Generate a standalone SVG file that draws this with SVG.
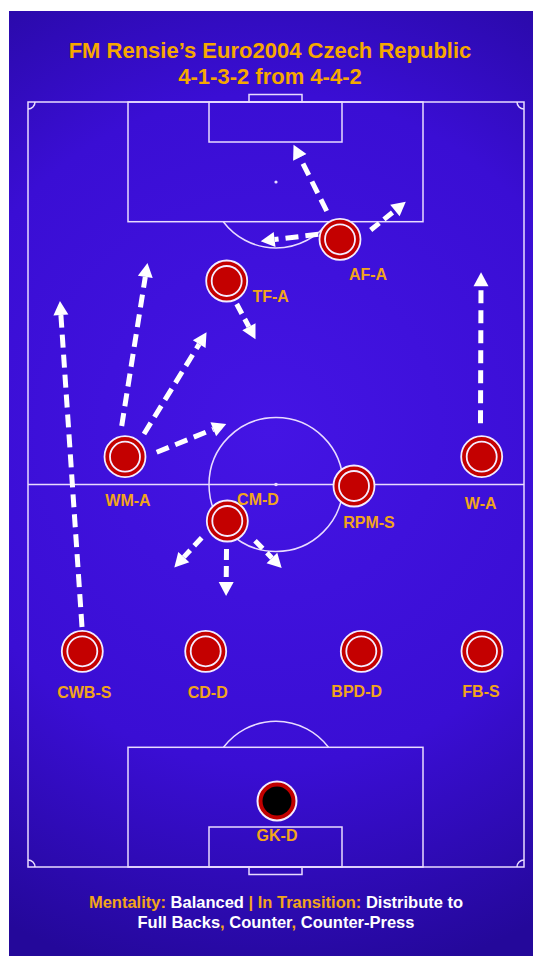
<svg xmlns="http://www.w3.org/2000/svg" width="533" height="956" viewBox="0 0 533 956">
<defs>
<radialGradient id="bg" cx="270" cy="430" r="560" gradientUnits="userSpaceOnUse">
<stop offset="0" stop-color="#4414e4"/>
<stop offset="0.6" stop-color="#3a0ed4"/>
<stop offset="1" stop-color="#24089a"/>
</radialGradient>
<marker id="ah" markerUnits="userSpaceOnUse" markerWidth="16" markerHeight="16" viewBox="0 -8 15 16" refX="0" refY="0" orient="auto">
<path d="M0,-7.5 L14,0 L0,7.5 Z" fill="#ffffff"/>
</marker>
</defs>
<style>
.pitch{fill:none;stroke:#e9dcff;stroke-width:1.5}
.dot{fill:#e9dcff}
.arr{fill:none;stroke:#ffffff;stroke-width:5;stroke-dasharray:13 7;marker-end:url(#ah)}
.arrs{fill:none;stroke:#ffffff;stroke-width:5;stroke-dasharray:11 6;marker-end:url(#ah)}
.p-out{fill:#c40000;stroke:#f4ecff;stroke-width:1.8}
.p-in{fill:none;stroke:#f4ecff;stroke-width:1.8}
.lbl{font-family:"Liberation Sans",Arial,sans-serif;font-weight:bold;font-size:16px;fill:#f2a51a;text-anchor:middle}
.title{font-family:"Liberation Sans",Arial,sans-serif;font-weight:bold;font-size:22px;fill:#f6a800;text-anchor:middle}
.foot{font-family:"Liberation Sans",Arial,sans-serif;font-weight:bold;font-size:16.5px;text-anchor:middle;fill:#ffffff}
.o{fill:#f2a51a}
</style>
<rect x="9" y="11" width="524" height="945" fill="url(#bg)"/>
<g id="pitch">
<rect class="pitch" x="28" y="102" width="496" height="765"/>
<line class="pitch" x1="28" y1="484.5" x2="524" y2="484.5"/>
<circle class="pitch" cx="276" cy="484.5" r="67"/>
<circle class="dot" cx="276" cy="484.5" r="1.8"/>
<rect class="pitch" x="128" y="102" width="295" height="119.7"/>
<rect class="pitch" x="209" y="102" width="133" height="40"/>
<rect class="pitch" x="249" y="94.5" width="53" height="7.5"/>
<circle class="dot" cx="276" cy="182" r="1.6"/>
<path class="pitch" d="M223.3,221.7 A66,66 0 0 0 328.7,221.7"/>
<rect class="pitch" x="128" y="747.3" width="295" height="119.7"/>
<rect class="pitch" x="209" y="827" width="133" height="40"/>
<rect class="pitch" x="249" y="867" width="53" height="7.5"/>
<path class="pitch" d="M223.5,747.3 A66,66 0 0 1 328.5,747.3"/>
<path class="pitch" d="M28,109 A7,7 0 0 0 35,102"/>
<path class="pitch" d="M517,102 A7,7 0 0 0 524,109"/>
<path class="pitch" d="M28,860 A7,7 0 0 1 35,867"/>
<path class="pitch" d="M517,867 A7,7 0 0 1 524,860"/>
</g>
<g id="title">
<text class="title" x="270" y="58">FM Rensie’s Euro2004 Czech Republic</text>
<text class="title" x="270" y="84">4-1-3-2 from 4-4-2</text>
</g>
<g id="connectors">
<line class="arr" x1="82" y1="627" x2="60.9" y2="315"/>
<line class="arr" x1="121.7" y1="426" x2="145.3" y2="276.8"/>
<line class="arr" x1="144" y1="434" x2="199.2" y2="344.1"/>
<line class="arr" x1="156.7" y1="452.3" x2="213.3" y2="429.2"/>
<line class="arrs" x1="236.7" y1="304" x2="248.9" y2="326.8"/>
<line class="arr" x1="326.7" y1="211" x2="299.8" y2="157.3"/>
<line class="arr" x1="318.3" y1="234.3" x2="274.6" y2="239.5"/>
<line class="arrs" x1="370.7" y1="230" x2="394.9" y2="210.5"/>
<line class="arr" x1="480.5" y1="423.3" x2="481" y2="286.3"/>
<line class="arrs" x1="201.7" y1="537.7" x2="183.8" y2="557.1"/>
<line class="arrs" x1="226.5" y1="549" x2="226.2" y2="582"/>
<line class="arrs" x1="255" y1="540.7" x2="271.9" y2="558"/>
</g>
<g id="af-a"><circle class="p-out" cx="340" cy="239.3" r="20.5"/><circle class="p-in" cx="340" cy="239.3" r="15"/><text class="lbl" x="368" y="280">AF-A</text></g>
<g id="tf-a"><circle class="p-out" cx="226.7" cy="281" r="20.5"/><circle class="p-in" cx="226.7" cy="281" r="15"/><text class="lbl" x="270.7" y="302">TF-A</text></g>
<g id="wm-a"><circle class="p-out" cx="125" cy="456.7" r="20.5"/><circle class="p-in" cx="125" cy="456.7" r="15"/><text class="lbl" x="128" y="506">WM-A</text></g>
<g id="w-a"><circle class="p-out" cx="481.7" cy="456.7" r="20.5"/><circle class="p-in" cx="481.7" cy="456.7" r="15"/><text class="lbl" x="480.7" y="509">W-A</text></g>
<g id="cm-d"><circle class="p-out" cx="227.3" cy="521" r="20.5"/><circle class="p-in" cx="227.3" cy="521" r="15"/><text class="lbl" x="258" y="505">CM-D</text></g>
<g id="rpm-s"><circle class="p-out" cx="354" cy="486" r="20.5"/><circle class="p-in" cx="354" cy="486" r="15"/><text class="lbl" x="369" y="528">RPM-S</text></g>
<g id="cwb-s"><circle class="p-out" cx="82.3" cy="651.3" r="20.5"/><circle class="p-in" cx="82.3" cy="651.3" r="15"/><text class="lbl" x="84.3" y="698">CWB-S</text></g>
<g id="cd-d"><circle class="p-out" cx="205.7" cy="651.3" r="20.5"/><circle class="p-in" cx="205.7" cy="651.3" r="15"/><text class="lbl" x="207.7" y="698">CD-D</text></g>
<g id="bpd-d"><circle class="p-out" cx="361.3" cy="651.3" r="20.5"/><circle class="p-in" cx="361.3" cy="651.3" r="15"/><text class="lbl" x="356.7" y="696.5">BPD-D</text></g>
<g id="fb-s"><circle class="p-out" cx="482" cy="651.3" r="20.5"/><circle class="p-in" cx="482" cy="651.3" r="15"/><text class="lbl" x="481" y="696.5">FB-S</text></g>
<g id="gk-d"><circle cx="277" cy="801" r="19.5" fill="#c00000" stroke="#f4ecff" stroke-width="2"/><circle cx="277" cy="801" r="14.5" fill="#000000"/><text class="lbl" x="277" y="841">GK-D</text></g>
<g id="footer">
<text class="foot" x="276" y="908"><tspan class="o">Mentality:</tspan> Balanced <tspan class="o">|</tspan> <tspan class="o">In Transition:</tspan> Distribute to</text>
<text class="foot" x="276" y="928">Full Backs<tspan class="o">,</tspan> Counter<tspan class="o">,</tspan> Counter-Press</text>
</g>
</svg>
